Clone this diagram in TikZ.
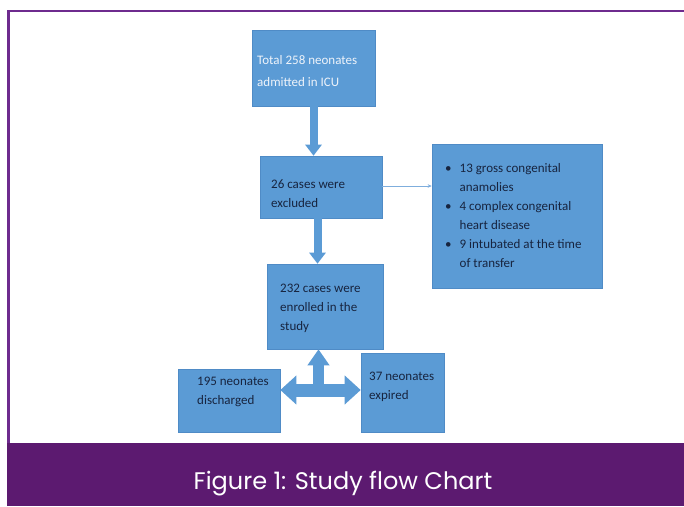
\documentclass[tikz,border=0pt]{standalone}
\usepackage{fontspec}
\setmainfont{Carlito}
\newfontfamily\capfont{Poppins}
\usetikzlibrary{arrows.meta}
\definecolor{boxblue}{HTML}{5B9BD5}
\definecolor{boxedge}{HTML}{4F8BC6}
\definecolor{navy}{HTML}{17243F}
\definecolor{lighttxt}{HTML}{EEF3FA}
\definecolor{band}{HTML}{5C1A70}
\definecolor{framecol}{HTML}{6E2B8E}
\definecolor{thinblue}{HTML}{7FAEDD}
\begin{document}
\begin{tikzpicture}[x=1pt,y=-1pt,
  box/.style={draw=boxedge, line width=0.6pt, fill=boxblue, inner sep=0pt},
  txt/.style={anchor=west, align=left, inner sep=0pt, text=navy, font=\fontsize{13}{19}\selectfont},
  fatarrow/.style={draw=boxblue, line width=8pt, -{Triangle[length=11pt,width=16pt]}},
  thinarrow/.style={draw=thinblue, line width=0.8pt, -{Stealth[length=4pt,width=3.5pt]}},
  bigshaft/.style={draw=boxblue, line width=13pt, {Triangle[length=16pt,width=28pt]}-{Triangle[length=16pt,width=28pt]}},
  upshaft/.style={draw=boxblue, line width=11pt, -{Triangle[length=16pt,width=21pt]}}
]
\useasboundingbox (0,0) rectangle (684,506);
\fill[white] (0,0) rectangle (684,506);
% frame and caption band
\draw[framecol, line width=2.5pt] (8.6,506) -- (8.6,10.8) -- (684,10.8);
\fill[band] (7.3,443) rectangle (684,505.5);
\node[anchor=base, text=white, inner sep=0pt, font=\capfont\fontsize{24}{26}\selectfont] (cap) at (343,489) {Figure 1: Study flow Chart};
% boxes
\node[box, minimum width=123pt, minimum height=76pt] (b1) at (313.5,68) {};
\node[box, minimum width=122pt, minimum height=62pt] (b2) at (321,187) {};
\node[box, minimum width=170pt, minimum height=144pt] (b3) at (517,216) {};
\node[box, minimum width=116pt, minimum height=85pt] (b4) at (325,306.5) {};
\node[box, minimum width=102pt, minimum height=63pt] (b5) at (229,400.5) {};
\node[box, minimum width=83pt, minimum height=79pt] (b6) at (402.5,392.5) {};
% texts
\node[txt, text=lighttxt, font=\fontsize{13}{22}\selectfont] (t1) at (257,71) {Total 258 neonates\\admitted in ICU};
\node[txt] (t2) at (271,193.5) {26 cases were\\excluded};
\node[txt] (t3) at (445,216) {\begin{tabular}{@{}l@{\hspace{8pt}}l@{}}
\textbullet & 13 gross congenital\\
 & anamolies\\
\textbullet & 4 complex congenital\\
 & heart disease\\
\textbullet & 9 intubated at the time\\
 & of transfer
\end{tabular}};
\node[txt] (t4) at (280,308) {232 cases were\\enrolled in the\\study};
\node[txt] (t5) at (197,392) {195 neonates\\discharged};
\node[txt] (t6) at (369,387) {37 neonates\\expired};
% connectors
\draw[fatarrow] (b1.south) -- (b1.south |- b2.north);
\coordinate (a2) at (317.5,218);
\draw[fatarrow] (b2.south -| a2) -- (b4.north -| a2);
\draw[thinarrow] (b2.east |- 0,186) -- (b3.west |- 0,186);
\coordinate (hb) at (318.5,390);
\draw[upshaft] (hb) -- (b4.south -| hb);
\draw[bigshaft] (b5.east |- hb) -- (b6.west |- hb);
\end{tikzpicture}
\end{document}
